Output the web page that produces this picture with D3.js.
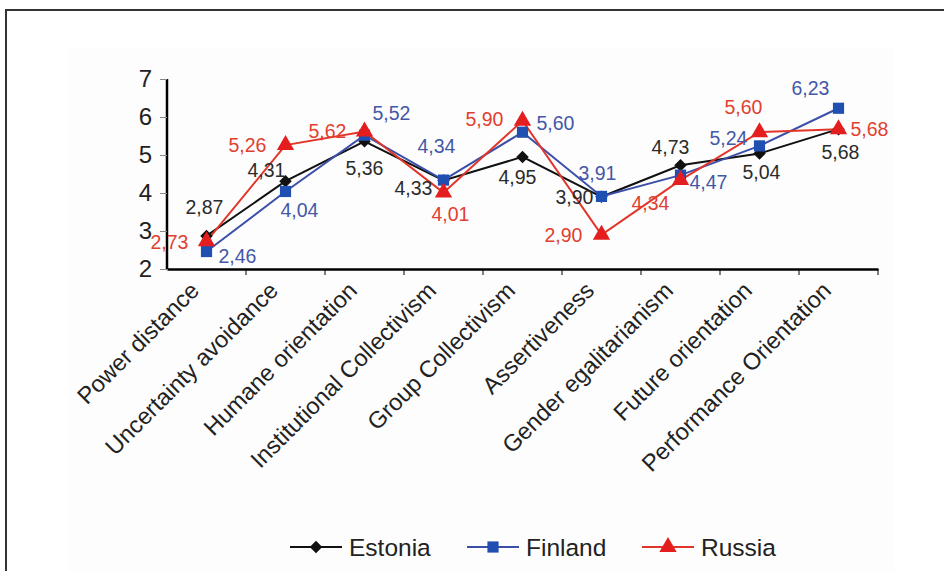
<!DOCTYPE html>
<html lang="en">
<head>
<meta charset="UTF-8">
<title>GLOBE dimensions</title>
<style>
  body { margin: 0; background: #fff; }
  svg { display: block; font-family: "Liberation Sans", Arial, sans-serif; }
  .axis path, .axis line { stroke: #000; }
  .tick line { stroke: #888; }
</style>
<script src="https://d3js.org/d3.v7.min.js"></script>
</head>
<body>
<script>
var categories = ["Power distance", "Uncertainty avoidance", "Humane orientation",
  "Institutional Collectivism", "Group Collectivism", "Assertiveness",
  "Gender egalitarianism", "Future orientation", "Performance Orientation"];

var estonia = [2.87, 4.31, 5.36, 4.33, 4.95, 3.90, 4.73, 5.04, 5.68];
var finland = [2.46, 4.04, 5.52, 4.34, 5.60, 3.91, 4.47, 5.24, 6.23];
var russia  = [2.73, 5.26, 5.62, 4.01, 5.90, 2.90, 4.34, 5.60, 5.68];

var yTicks = [2, 3, 4, 5, 6, 7];

// label offsets from each point, picked by eye
var estOff = [[-2,-29],[-19,-11],[0,27],[-30,8],[-5,20],[-27,0],[-10,-18],[2,19],[2,23]];
var finOff = [[31,5],[14,19],[27,-22],[-7,-34],[33,-9],[-4,-23],[28,7],[-31,-8],[-28,-20]];
var rusOff = [[-37,1],[-38,0],[-37,0],[7,22],[-38,-2],[-38,0],[-30,23],[-16,-25],[31,0]];

var series = [
  {name: "Estonia", values: estonia, off: estOff, line: "#111", mark: "#111", text: "#2b2b2b", shape: d3.symbolDiamond2, size: 100},
  {name: "Finland", values: finland, off: finOff, line: "#3b4fa8", mark: "#1f4fb0", text: "#4457a8", shape: d3.symbolSquare, size: 125},
  {name: "Russia",  values: russia,  off: rusOff, line: "#e2352a", mark: "#e41e1e", text: "#e0402f", shape: d3.symbolTriangle, size: 130}
];

var W = 944, H = 571;
var svg = d3.select("body").append("svg").attr("width", W).attr("height", H);

// frame and faint plot backdrop
svg.append("rect").attr("x", 68).attr("y", 48).attr("width", 826).attr("height", 530).attr("fill", "#fdfdfd");
svg.append("path").attr("d", "M6," + H + "V10H" + W).attr("fill", "none").attr("stroke", "#333").attr("stroke-width", 2);

var x = d3.scaleBand().domain(categories).range([167, 878]);
var y = d3.scaleLinear().domain([2, 7]).range([269, 79]);

var xAxis = svg.append("g").attr("class", "axis").attr("transform", "translate(0,269)")
  .call(d3.axisBottom(x).tickSize(0).tickFormat(""));
xAxis.select(".domain").attr("stroke-width", 2.5);
// ticks sit at category borders
xAxis.selectAll(".bnd").data(categories).enter().append("line")
  .attr("x1", function (d) { return x(d) + x.bandwidth(); })
  .attr("x2", function (d) { return x(d) + x.bandwidth(); })
  .attr("y1", 0).attr("y2", 6).attr("stroke", "#888");

svg.selectAll(".cat").data(categories).enter().append("text")
  .attr("class", "cat")
  .attr("transform", function (d) {
    return "translate(" + (x(d) + x.bandwidth() / 2 - 6) + ",292) rotate(-45)";
  })
  .attr("text-anchor", "end")
  .attr("font-size", 23.5)
  .attr("fill", "#222")
  .text(function (d) { return d; });

var yAxis = svg.append("g").attr("class", "axis").attr("transform", "translate(167,0)")
  .call(d3.axisLeft(y).tickValues(yTicks).tickSize(7).tickPadding(8).tickFormat(d3.format("d")));
yAxis.select(".domain").attr("stroke-width", 2.5).attr("d", "M0,79V269");
yAxis.selectAll("text").attr("font-size", 24).attr("fill", "#222").attr("font-family", "Liberation Sans, Arial, sans-serif");

var fmt = function (v) { return d3.format(".2f")(v).replace(".", ","); };

var line = d3.line()
  .x(function (d, i) { return x(categories[i]) + x.bandwidth() / 2; })
  .y(function (d) { return y(d); });

series.forEach(function (s) {
  svg.append("path").datum(s.values)
    .attr("d", line).attr("fill", "none").attr("stroke", s.line).attr("stroke-width", 2);
});

series.forEach(function (s) {
  var g = svg.append("g");
  g.selectAll("path").data(s.values).enter().append("path")
    .attr("d", d3.symbol().type(s.shape).size(s.size))
    .attr("transform", function (d, i) {
      return "translate(" + (x(categories[i]) + x.bandwidth() / 2) + "," + y(d) + ")";
    })
    .attr("fill", s.mark);
});

series.forEach(function (s) {
  svg.append("g").selectAll("text").data(s.values).enter().append("text")
    .attr("x", function (d, i) { return x(categories[i]) + x.bandwidth() / 2 + s.off[i][0]; })
    .attr("y", function (d, i) { return y(d) + s.off[i][1]; })
    .attr("dy", "0.35em")
    .attr("text-anchor", "middle")
    .attr("font-size", 19.5)
    .attr("fill", s.text)
    .text(fmt);
});

// legend
var legX = [290, 467, 642];
var leg = svg.append("g").selectAll("g").data(series).enter().append("g")
  .attr("transform", function (d, i) { return "translate(" + legX[i] + ",547)"; });
leg.append("line").attr("x1", 0).attr("x2", 52).attr("stroke", function (d) { return d.line; }).attr("stroke-width", 2);
leg.append("path")
  .attr("d", function (d) { return d3.symbol().type(d.shape).size(d.size)(); })
  .attr("transform", "translate(26,0)")
  .attr("fill", function (d) { return d.mark; });
leg.append("text").attr("x", 59).attr("dy", "0.35em").attr("font-size", 24.5).attr("fill", "#222")
  .text(function (d) { return d.name; });
</script>
</body>
</html>
